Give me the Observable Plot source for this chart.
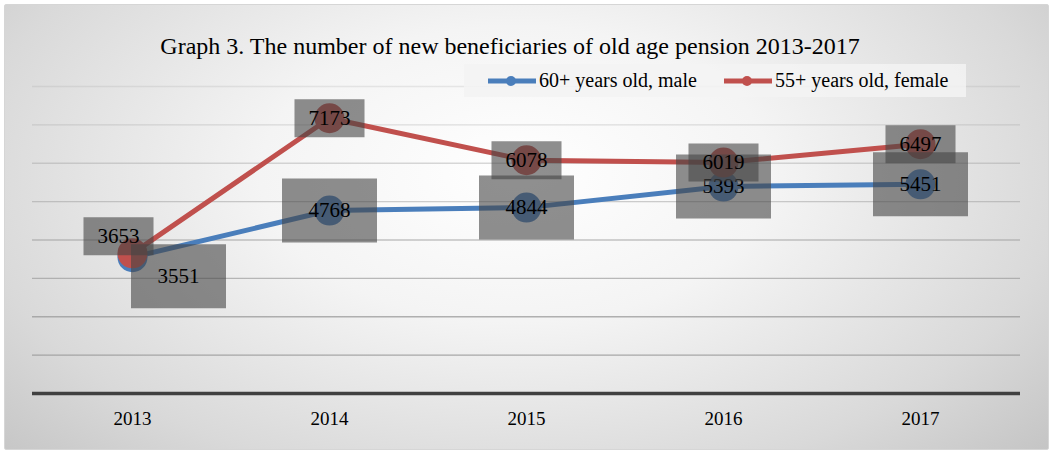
<!DOCTYPE html>
<html>
<head>
<meta charset="utf-8">
<script src="https://cdn.jsdelivr.net/npm/d3@7"></script>
<script src="https://cdn.jsdelivr.net/npm/@observablehq/plot@0.6"></script>
<style>
  html, body { margin: 0; padding: 0; background: #ffffff; }
  #wrap { position: relative; width: 1055px; height: 454px; overflow: hidden; font-family: "Liberation Serif", "Times New Roman", serif; }
  #bg { position: absolute; left: 4px; top: 4px; width: 1043px; height: 444px; border: 1px solid #d6d6d6; border-radius: 2px;
        background: radial-gradient(ellipse 70% 95% at 49% 38%, #ffffff 0%, #f4f4f4 35%, #d9d9d9 75%, #c3c3c3 100%); }
  #chart { position: absolute; left: 0; top: 0; }
  #title { position: absolute; left: 0; width: 1020px; top: 33px; text-align: center; font-family: "Liberation Serif", "Times New Roman", serif; font-size: 24px; color: #000; white-space: nowrap; }
  #legend { position: absolute; left: 464px; top: 64px; width: 502px; height: 33px; background: rgba(243,243,243,0.85); }
  .item { position: absolute; top: 0; height: 33px; display: flex; align-items: center; font-family: "Liberation Serif", "Times New Roman", serif; font-size: 20px; color: #000; white-space: nowrap; }
  .item svg { margin-right: 3px; }
</style>
</head>
<body>
<div id="wrap">
  <div id="bg"></div>
  <div id="chart"></div>
  <div id="title"></div>
  <div id="legend"></div>
</div>
<script>
const titleText = "Graph 3. The number of new beneficiaries of old age pension 2013-2017";
const years = ["2013", "2014", "2015", "2016", "2017"];
const seriesNames = ["60+ years old, male", "55+ years old, female"];
const maleValues = [3551, 4768, 4844, 5393, 5451];
const femaleValues = [3653, 7173, 6078, 6019, 6497];
const yTicks = [0, 1000, 2000, 3000, 4000, 5000, 6000, 7000, 8000];
const colors = ["#4a7ebb", "#c0504d"];

const maleRows = years.map((y, i) => ({year: y, value: maleValues[i], series: seriesNames[0]}));
const femaleRows = years.map((y, i) => ({year: y, value: femaleValues[i], series: seriesNames[1]}));

const box = (w, h) => ({
  draw(ctx) {
    ctx.moveTo(-w / 2, -h / 2);
    ctx.lineTo(w / 2, -h / 2);
    ctx.lineTo(w / 2, h / 2);
    ctx.lineTo(-w / 2, h / 2);
    ctx.closePath();
  }
});

const boxFill = "#444444";
const boxOpacity = 0.6;
const labelFont = 21;

function labelMarks(rows, w, h, firstDx, firstDy) {
  const first = rows.filter(d => d.year === years[0]);
  const rest = rows.filter(d => d.year !== years[0]);
  return [
    Plot.dot(rest, {x: "year", y: "value", symbol: box(w, h), r: 1, fill: boxFill, fillOpacity: boxOpacity, stroke: "none"}),
    Plot.dot(first, {x: "year", y: "value", symbol: box(w, h), r: 1, fill: boxFill, fillOpacity: boxOpacity, stroke: "none", dx: firstDx, dy: firstDy}),
    Plot.text(rest, {x: "year", y: "value", text: d => String(d.value), fill: "#000", fontSize: labelFont}),
    Plot.text(first, {x: "year", y: "value", text: d => String(d.value), fill: "#000", fontSize: labelFont, dx: firstDx, dy: firstDy})
  ];
}

const chart = Plot.plot({
  width: 1055,
  height: 454,
  marginLeft: 32,
  marginRight: 35,
  marginTop: 86,
  marginBottom: 61,
  style: {background: "transparent", fontFamily: "Liberation Serif, serif", overflow: "visible"},
  x: {type: "point", domain: years, padding: 0.5},
  y: {domain: [0, 8000]},
  marks: [
    Plot.ruleY(yTicks.filter(d => d > 0), {y: d => d, stroke: "#9a9a9a", strokeOpacity: d => 0.95 - d / 8000 * 0.75, strokeWidth: 1.3}),
    Plot.ruleY([0], {stroke: "#404040", strokeWidth: 3.5}),
    Plot.axisX({tickSize: 0, tickPadding: 18, fontSize: 19, fill: "#000"}),
    Plot.axisY({ticks: [], tickSize: 0, label: null}),
    Plot.line(maleRows, {x: "year", y: "value", stroke: colors[0], strokeWidth: 5}),
    Plot.line(femaleRows, {x: "year", y: "value", stroke: colors[1], strokeWidth: 5}),
    Plot.dot(maleRows, {x: "year", y: "value", r: 15, fill: colors[0], stroke: "none"}),
    Plot.dot(femaleRows, {x: "year", y: "value", r: 15, fill: colors[1], stroke: "none"}),
    ...labelMarks(maleRows, 95, 64, 46, 19),
    ...labelMarks(femaleRows, 70, 38, -14, -17)
  ]
});
chart.querySelectorAll("[aria-label='x-axis label'], [aria-label='y-axis label']").forEach(n => n.remove());
document.getElementById("chart").appendChild(chart);
document.getElementById("title").textContent = titleText;

const legend = document.getElementById("legend");
const itemLefts = [24, 260];
seriesNames.forEach((name, i) => {
  const item = document.createElement("div");
  item.className = "item";
  item.style.left = itemLefts[i] + "px";
  item.innerHTML = `<svg width="48" height="12"><line x1="0" y1="6" x2="48" y2="6" stroke="${colors[i]}" stroke-width="5"/><circle cx="23" cy="6" r="5" fill="${colors[i]}"/></svg><span></span>`;
  item.querySelector("span").textContent = name;
  legend.appendChild(item);
});
</script>
</body>
</html>
